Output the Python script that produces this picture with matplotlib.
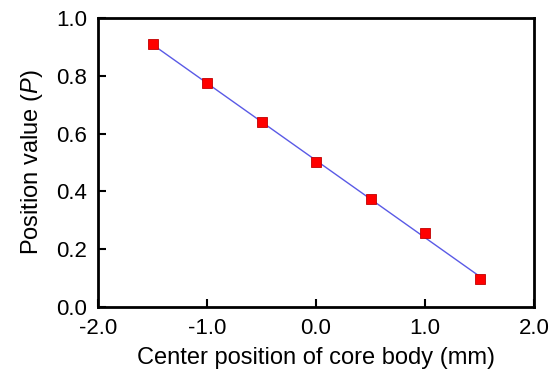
import numpy as np
import matplotlib
matplotlib.use("Agg")
import matplotlib.pyplot as plt

# 芯体中心位置 (mm) 与位置值 P
center_pos = [-1.5, -1.0, -0.5, 0.0, 0.5, 1.0, 1.5]
p_value = [0.909, 0.774, 0.641, 0.501, 0.374, 0.256, 0.096]

plt.rcParams['font.family'] = ['Liberation Sans', 'DejaVu Sans']
plt.rcParams['mathtext.fontset'] = 'custom'
plt.rcParams['mathtext.it'] = 'Liberation Sans:italic'
plt.rcParams['mathtext.rm'] = 'Liberation Sans'

fig = plt.figure(figsize=(5.55, 3.83), dpi=100)
ax = fig.add_axes([98 / 555, 1 - 307 / 383, 436 / 555, 289 / 383])

# 线性拟合
k, b = np.polyfit(center_pos, p_value, 1)
xs = np.array([center_pos[0], center_pos[-1]])
ax.plot(xs, k * xs + b, color='#5a5ae6', linewidth=1.0, zorder=2)
ax.plot(center_pos, p_value, 's', color='#ff0000', markeredgecolor='#c00000',
        markeredgewidth=0.6, markersize=7, zorder=3)

ax.set_xlim(-2.0, 2.0)
ax.set_ylim(0.0, 1.0)
ax.set_xticks(np.arange(-2.0, 2.01, 1.0))
ax.set_yticks(np.arange(0.0, 1.01, 0.2))
ax.set_xticklabels(['%.1f' % v for v in np.arange(-2.0, 2.01, 1.0)])
ax.set_yticklabels(['%.1f' % v for v in np.arange(0.0, 1.01, 0.2)])
ax.tick_params(direction='in', length=6, width=1.5, labelsize=16, pad=8,
               top=False, right=False)
for s in ax.spines.values():
    s.set_linewidth(2)

ax.set_xlabel('Center position of core body (mm)', fontsize=17, labelpad=6)
ax.set_ylabel('Position value ($P$)', fontsize=17, labelpad=8)

fig.savefig('out.png', dpi=100)
